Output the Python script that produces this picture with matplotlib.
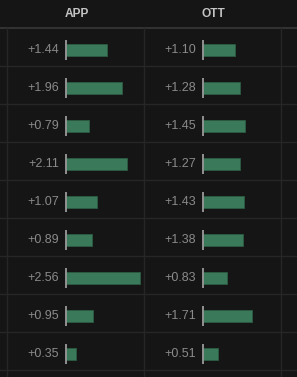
import matplotlib.pyplot as plt

plt.rcParams['font.family'] = ['Liberation Sans', 'DejaVu Sans']

# data
columns = ['APP', 'OTT']
app_vals = [1.44, 1.96, 0.79, 2.11, 1.07, 0.89, 2.56, 0.95, 0.35]
ott_vals = [1.10, 1.28, 1.45, 1.27, 1.43, 1.38, 0.83, 1.71, 0.51]

W, H = 297, 377
bg = '#151515'
bar_col = '#3a7a5a'
line_col = '#262626'

fig = plt.figure(figsize=(W / 100, H / 100), dpi=100, facecolor=bg)

# background axes in pixel coordinates: headers and grid lines
base = fig.add_axes([0, 0, 1, 1])
base.set_xlim(0, W)
base.set_ylim(H, 0)
base.axis('off')
base.set_facecolor(bg)

top, row_h, n = 28, 38, len(app_vals)
col_edges = [7, 144, 281]
base.axhline(top, color='#383838', lw=1.2)
for i in range(1, n + 1):
    base.axhline(top + i * row_h, color=line_col, lw=1)
for x in col_edges:
    base.plot([x, x], [top, H], color=line_col, lw=1)
for j, name in enumerate(columns):
    cx = (col_edges[j] + col_edges[j + 1]) / 2 + 1
    base.text(cx, 14, name, color='#c4c4c4', fontsize=8.6, fontweight='semibold',
              ha='center', va='center')

# one axes per column, x in value units (28.8 px per unit, zero 59 px into the column)
scale = 28.8
for j, vals in enumerate([app_vals, ott_vals]):
    x0, x1 = col_edges[j], col_edges[j + 1]
    ax = fig.add_axes([x0 / W, (H - top - n * row_h) / H, (x1 - x0) / W, n * row_h / H])
    ax.set_xlim(-59 / scale, (x1 - x0 - 59) / scale)
    ax.set_ylim(n, 0)
    ax.axis('off')
    ax.patch.set_alpha(0)
    ys = [i + 0.58 for i in range(n)]
    ax.barh(ys, vals, height=0.32, color=bar_col, edgecolor='#2c5c44', lw=0.6)
    for y, v in zip(ys, vals):
        ax.plot([0, 0], [y - 0.27, y + 0.27], color='#9a9a9a', lw=1.3,
                solid_capstyle='butt')
        ax.annotate(f'+{v:.2f}', (0, y), xytext=(-5, 0), textcoords='offset points',
                    ha='right', va='center', color='#8a8a8a', fontsize=9)

fig.savefig('out.png', dpi=100, facecolor=bg)
